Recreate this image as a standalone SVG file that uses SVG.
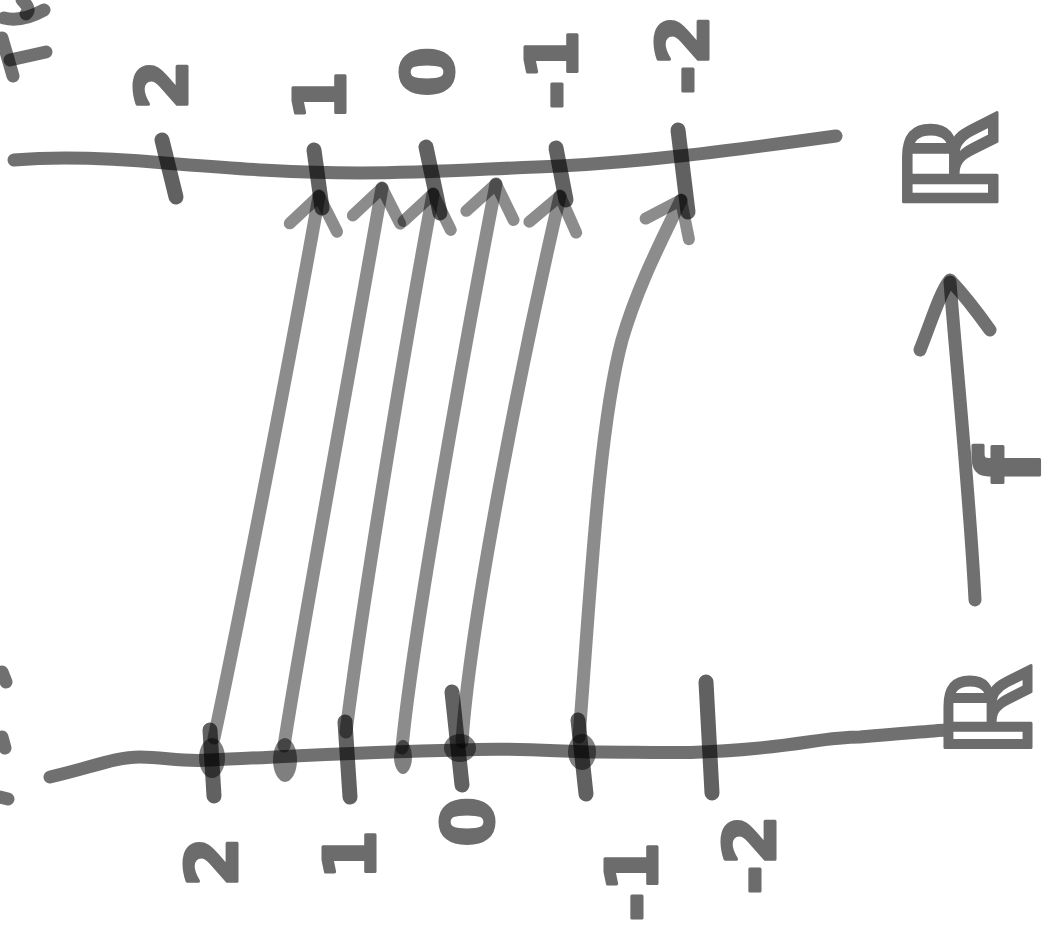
<svg xmlns="http://www.w3.org/2000/svg" width="1059" height="936" viewBox="0 0 1059 936">
  <style>
    .ink { fill: none; stroke: #000; stroke-opacity: 0.56; stroke-linecap: round; stroke-linejoin: round; }
    .axis { stroke-width: 13; }
    .tick { stroke-width: 15; stroke-opacity: 0.62; }
    .dot { fill: #000; fill-opacity: 0.5; }
    .map { fill: none; stroke: #000; stroke-opacity: 0.45; stroke-width: 13; stroke-linecap: round; stroke-linejoin: round; }
    .lbl { font-family: "DejaVu Sans", "Liberation Sans", sans-serif; font-weight: bold; fill: #6c6c6c; stroke: #6c6c6c; stroke-width: 3; stroke-linejoin: round; text-anchor: middle; dominant-baseline: central; }
  </style>
  <defs>
    <marker id="head" markerUnits="userSpaceOnUse" markerWidth="80" markerHeight="80" refX="40" refY="40" orient="auto" viewBox="0 0 80 80">
      <path d="M8,16 L40,40 L8,64" fill="none" stroke="#000" stroke-opacity="0.45" stroke-width="12" stroke-linecap="round" stroke-linejoin="round"/>
    </marker>
  </defs>
  <rect width="1059" height="936" fill="#fff"/>

  <!-- upper number line -->
  <g id="top-axis">
    <path class="ink axis" d="M14,160 C60,156 110,158 165,163 C230,168 290,173 360,173 C430,173 480,169 560,166 C640,162 720,152 836,136"/>
    <path class="ink tick" d="M162,140 L176,197"/>
    <path class="ink tick" d="M314,150 L322,208"/>
    <path class="ink tick" d="M426,147 L440,213"/>
    <path class="ink tick" d="M556,148 L566,200"/>
    <path class="ink tick" d="M678,130 L688,212"/>
    <text class="lbl" font-size="72" transform="translate(162,85) rotate(-90)">2</text>
    <text class="lbl" font-size="72" transform="translate(320,96) rotate(-90)">1</text>
    <text class="lbl" font-size="72" transform="translate(428,72) rotate(-90)">0</text>
    <text class="lbl" font-size="72" transform="translate(552,70) rotate(-90)">-1</text>
    <text class="lbl" font-size="72" transform="translate(683,55) rotate(-90)">-2</text>
    <text class="lbl" font-size="128" transform="translate(952,163) rotate(-90)">ℝ</text>
  </g>

  <!-- lower number line -->
  <g id="bottom-axis">
    <path class="ink axis" d="M50,777 C90,768 115,757 140,757 C165,757 180,762 210,760 C280,757 360,752 460,750 C520,747 560,752 600,752 C650,752 690,755 760,748 C810,743 830,737 860,737 C900,734 930,731 946,730"/>
    <ellipse class="dot" cx="212" cy="758" rx="13" ry="20"/>
    <path class="ink tick" d="M210,730 L214,796"/>
    <ellipse class="dot" cx="285" cy="760" rx="12" ry="22"/>
    <path class="ink tick" d="M345,722 L350,797"/>
    <ellipse class="dot" cx="403" cy="757" rx="9" ry="17"/>
    <ellipse class="dot" cx="460" cy="748" rx="16" ry="14"/>
    <path class="ink tick" d="M452,692 L462,785"/>
    <ellipse class="dot" cx="582" cy="752" rx="14" ry="18"/>
    <path class="ink tick" d="M578,720 L586,794"/>
    <path class="ink tick" d="M706,682 L712,793"/>
    <text class="lbl" font-size="72" transform="translate(212,862) rotate(-90)">2</text>
    <text class="lbl" font-size="72" transform="translate(350,855) rotate(-90)">1</text>
    <text class="lbl" font-size="72" transform="translate(468,822) rotate(-90)">0</text>
    <text class="lbl" font-size="72" transform="translate(632,882) rotate(-90)">-1</text>
    <text class="lbl" font-size="72" transform="translate(750,855) rotate(-90)">-2</text>
    <text class="lbl" font-size="118" transform="translate(990,712) rotate(-90)">ℝ</text>
  </g>

  <!-- edge marks cut by the frame -->
  <g id="edge-marks">
    <path class="ink axis" d="M4,18 C20,22 35,15 44,10"/>
    <path class="ink axis" d="M22,0 C28,6 30,10 26,14"/>
    <path class="ink axis" d="M2,38 L13,76"/>
    <path class="ink axis" d="M10,60 L46,52"/>
    <path class="ink axis" d="M2,672 L6,682"/>
    <path class="ink axis" d="M2,737 L5,748"/>
    <path class="ink axis" d="M0,797 L8,799"/>
  </g>

  <!-- the map f, drawn as arrows from each lower mark to its image -->
  <g id="connectors">
    <path class="map" marker-end="url(#head)" d="M214,738 C235,640 290,360 319,196"/>
    <path class="map" marker-end="url(#head)" d="M284,746 C300,640 352,360 382,188"/>
    <path class="map" marker-end="url(#head)" d="M346,732 C360,620 402,360 433,194"/>
    <path class="map" marker-end="url(#head)" d="M402,748 C412,640 462,360 496,184"/>
    <path class="map" marker-end="url(#head)" d="M462,742 C470,620 522,360 560,196"/>
    <path class="map" marker-end="url(#head)" d="M579,737 C590,600 598,430 622,340 C638,285 662,240 681,200"/>
  </g>

  <!-- direction arrow labelled f -->
  <g id="f-arrow">
    <path class="ink axis" d="M975,600 C970,500 956,360 950,282"/>
    <path class="ink axis" d="M920,350 C932,320 940,292 950,280 C965,296 980,316 990,330"/>
    <text class="lbl" font-size="88" transform="translate(1008,465) rotate(-90)">f</text>
  </g>
</svg>
